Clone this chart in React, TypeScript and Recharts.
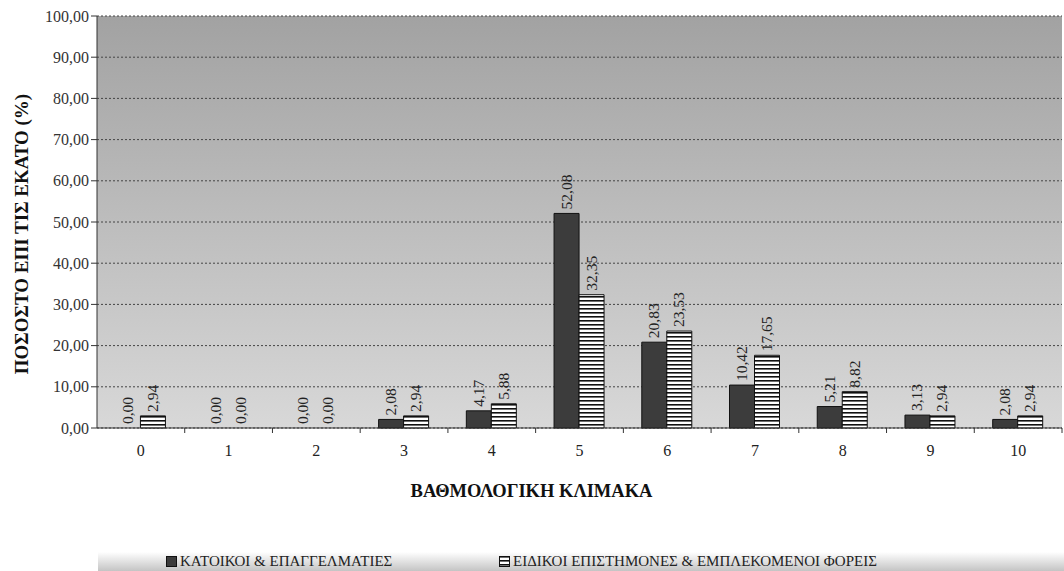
import React from "react";
import { BarChart, Bar, XAxis, YAxis, CartesianGrid, LabelList, Label, Rectangle } from "recharts";

const categories = ["0", "1", "2", "3", "4", "5", "6", "7", "8", "9", "10"];
const residents = [0.0, 0.0, 0.0, 2.08, 4.17, 52.08, 20.83, 10.42, 5.21, 3.13, 2.08];
const experts = [2.94, 0.0, 0.0, 2.94, 5.88, 32.35, 23.53, 17.65, 8.82, 2.94, 2.94];
const yTicks = [0, 10, 20, 30, 40, 50, 60, 70, 80, 90, 100];

const residentsName = "ΚΑΤΟΙΚΟΙ & ΕΠΑΓΓΕΛΜΑΤΙΕΣ";
const expertsName = "ΕΙΔΙΚΟΙ ΕΠΙΣΤΗΜΟΝΕΣ & ΕΜΠΛΕΚΟΜΕΝΟΙ ΦΟΡΕΙΣ";

const data = categories.map((c, i) => ({ cat: c, residents: residents[i], experts: experts[i] }));

const FONT = "'Liberation Serif', 'Times New Roman', 'DejaVu Serif', serif";
const fmt = (v: number) => v.toFixed(2).replace(".", ",");

if (typeof document !== "undefined") {
  document.body.style.margin = "0";
  document.body.style.overflow = "hidden";
}

function ValueLabel(props: any) {
  const { x, y, width, height, value } = props;
  const cx = x + width / 2 + 5;
  // zero bars get a min size, so anchor to the bottom edge
  const top = Number(value) === 0 ? y + height : y;
  const ty = top - 4;
  return (
    <text
      x={cx}
      y={ty}
      transform={`rotate(-90, ${cx}, ${ty})`}
      textAnchor="start"
      fontFamily={FONT}
      fontSize={15.5}
      fill="#222"
    >
      {fmt(Number(value))}
    </text>
  );
}

// hide the placeholder rect of zero bars, keep their labels
const barShape = (key: string) => (props: any) =>
  Number(props.payload?.[key]) === 0 ? <g /> : <Rectangle {...props} />;

const BAND = 965 / 11;

function XTick(props: any) {
  const { x, y, payload } = props;
  return (
    <g>
      <line x1={x + BAND / 2} x2={x + BAND / 2} y1={y - 8} y2={y - 3} stroke="#333" />
      <text x={x} y={y + 20} textAnchor="middle" fontFamily={FONT} fontSize={16} fill="#222">
        {payload.value}
      </text>
    </g>
  );
}

function YTitle(props: any) {
  const vb = props.viewBox || { x: 0, y: 16, width: 97, height: 412 };
  const tx = vb.x + 28;
  const ty = vb.y + vb.height / 2 + 12;
  return (
    <text
      x={tx}
      y={ty}
      transform={`rotate(-90, ${tx}, ${ty})`}
      textAnchor="middle"
      fontFamily={FONT}
      fontSize={19}
      fontWeight="bold"
      fill="#111"
    >
      ΠΟΣΟΣΤΟ ΕΠΙ ΤΙΣ ΕΚΑΤΟ (%)
    </text>
  );
}

function XTitle(props: any) {
  const vb = props.viewBox || { x: 97, y: 428, width: 965, height: 77 };
  return (
    <text
      x={vb.x + vb.width / 2 - 48}
      y={vb.y + 69}
      textAnchor="middle"
      fontFamily={FONT}
      fontSize={18.5}
      fontWeight="bold"
      fill="#111"
    >
      ΒΑΘΜΟΛΟΓΙΚΗ ΚΛΙΜΑΚΑ
    </text>
  );
}

export default function App() {
  return (
    <div style={{ width: 1064, height: 571, background: "#fff", position: "relative", fontFamily: FONT, overflow: "hidden" }}>
      <svg width={0} height={0} style={{ position: "absolute" }}>
        <defs>
          <linearGradient id="plotBg" x1="0" y1="0" x2="0" y2="1">
            <stop offset="0%" stopColor="#a2a2a2" />
            <stop offset="100%" stopColor="#d8d8d8" />
          </linearGradient>
          <pattern id="stripes" width="4" height="4" patternUnits="userSpaceOnUse">
            <rect width="4" height="4" fill="#ffffff" />
            <rect width="4" height="1.6" fill="#111111" />
          </pattern>
        </defs>
      </svg>
      <BarChart
        width={1064}
        height={505}
        data={data}
        margin={{ top: 16, right: 2, left: 0, bottom: 0 }}
        barCategoryGap="21%"
        barGap={0}
      >
        <CartesianGrid
          vertical={false}
          fill="url(#plotBg)"
          stroke="#444"
          strokeDasharray="2 2"
          fillOpacity={1}
        />
        <XAxis
          dataKey="cat"
          height={77}
          tick={<XTick />}
          tickLine={false}
          axisLine={{ stroke: "#333" }}
          interval={0}
        >
          <Label content={<XTitle />} />
        </XAxis>
        <YAxis
          width={97}
          domain={[0, 100]}
          ticks={yTicks}
          tickFormatter={fmt}
          tick={{ fontFamily: FONT, fontSize: 16, fill: "#333" }}
          tickSize={6}
          tickLine={{ stroke: "#333" }}
          axisLine={{ stroke: "#333" }}
        >
          <Label content={<YTitle />} />
        </YAxis>
        <Bar dataKey="residents" name={residentsName} fill="#3c3c3c" stroke="#111" strokeWidth={1} minPointSize={1} shape={barShape("residents")} isAnimationActive={false}>
          <LabelList dataKey="residents" content={<ValueLabel />} />
        </Bar>
        <Bar dataKey="experts" name={expertsName} fill="url(#stripes)" stroke="#111" strokeWidth={1} minPointSize={1} shape={barShape("experts")} isAnimationActive={false}>
          <LabelList dataKey="experts" content={<ValueLabel />} />
        </Bar>
      </BarChart>
      <div
        style={{
          position: "absolute",
          left: 98,
          top: 552,
          width: 966,
          height: 19,
          background: "linear-gradient(to bottom, #ffffff 0%, #c4c4c4 100%)",
          fontSize: 15,
          color: "#222",
          lineHeight: "19px",
        }}
      >
        <span style={{ position: "absolute", left: 68, top: 0, display: "flex", alignItems: "center", height: 19 }}>
          <span style={{ display: "inline-block", width: 9, height: 9, background: "#3c3c3c", border: "1px solid #111", marginRight: 3 }} />
          {residentsName}
        </span>
        <span style={{ position: "absolute", left: 401, top: 0, display: "flex", alignItems: "center", height: 19 }}>
          <svg width={11} height={11} style={{ marginRight: 3 }}>
            <rect x={0.5} y={0.5} width={10} height={10} fill="url(#stripes)" stroke="#111" />
          </svg>
          {expertsName}
        </span>
      </div>
    </div>
  );
}
